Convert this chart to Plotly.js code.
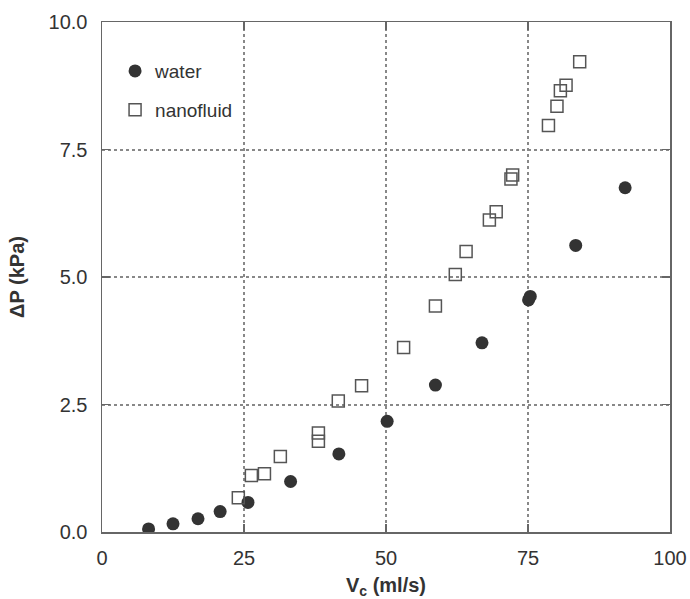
<!DOCTYPE html>
<html>
<head>
<meta charset="utf-8">
<script src="https://cdn.plot.ly/plotly-3.0.1.min.js"></script>
<style>body{margin:0;background:#fff;} #chart{width:690px;height:599px;}</style>
</head>
<body>
<div id="chart"></div>
<script>
const waterX = [8.2, 12.5, 16.9, 20.8, 25.7, 33.2, 41.7, 50.2, 58.7, 66.9, 75.1, 75.4, 83.4, 92.1];
const waterY = [0.06, 0.16, 0.26, 0.40, 0.58, 0.99, 1.53, 2.17, 2.88, 3.71, 4.55, 4.62, 5.62, 6.75];
const nanoX = [24.0, 26.3, 28.6, 31.4, 38.1, 38.1, 41.6, 45.7, 53.1, 58.7, 62.2, 64.1, 68.2, 69.4, 72.0, 72.3, 78.6, 80.1, 80.7, 81.7, 84.1];
const nanoY = [0.67, 1.11, 1.14, 1.48, 1.94, 1.78, 2.57, 2.87, 3.62, 4.43, 5.05, 5.50, 6.12, 6.28, 6.92, 7.00, 7.97, 8.35, 8.65, 8.76, 9.22];
const xTicks = [0, 25, 50, 75, 100];
const yTicks = [0, 2.5, 5, 7.5, 10];
const yTickText = ['0.0', '2.5', '5.0', '7.5', '10.0'];

const FONT = 'Liberation Sans, Arial, sans-serif';

const traces = [
  {x: waterX, y: waterY, name: 'water', type: 'scatter', mode: 'markers', legendgroup: 'a',
   marker: {symbol: 'circle', size: 13, color: '#333', line: {width: 0}}},
  {x: nanoX, y: nanoY, name: 'nanofluid', type: 'scatter', mode: 'markers', legendgroup: 'b',
   marker: {symbol: 'square-open', size: 12, color: '#555', line: {width: 1.5}}}
];

const axisCommon = {
  showline: true, linecolor: '#666', linewidth: 1.5, mirror: 'ticks',
  ticks: 'inside', ticklen: 8, tickwidth: 1.5, tickcolor: '#666',
  showgrid: true, gridcolor: '#888', gridwidth: 2, griddash: 'dot',
  zeroline: false,
  tickfont: {family: FONT, size: 20, color: '#333'}
};

const layout = {
  width: 690, height: 599,
  margin: {l: 102, r: 20, t: 22, b: 67},
  paper_bgcolor: '#fff', plot_bgcolor: '#fff',
  showlegend: true,
  legend: {x: 0.023, y: 0.941, xanchor: 'left', yanchor: 'top', bgcolor: 'rgba(0,0,0,0)',
    font: {family: FONT, size: 19, color: '#333'},
    itemwidth: 30, tracegroupgap: 11},
  xaxis: Object.assign({}, axisCommon, {
    range: [0, 100], tickvals: xTicks, ticktext: xTicks.map(String), ticklabelstandoff: 7,
    title: {text: '<b>V<sub>c</sub> (ml/s)</b>', standoff: 12,
      font: {family: FONT, size: 20, color: '#333'}}
  }),
  yaxis: Object.assign({}, axisCommon, {
    range: [0, 10], tickvals: yTicks, ticktext: yTickText, ticklabelstandoff: 9,
    title: {text: '<b>ΔP (kPa)</b>', standoff: 18,
      font: {family: FONT, size: 20, color: '#333'}}
  })
};

Plotly.newPlot('chart', traces, layout, {displayModeBar: false, staticPlot: true});
</script>
</body>
</html>
